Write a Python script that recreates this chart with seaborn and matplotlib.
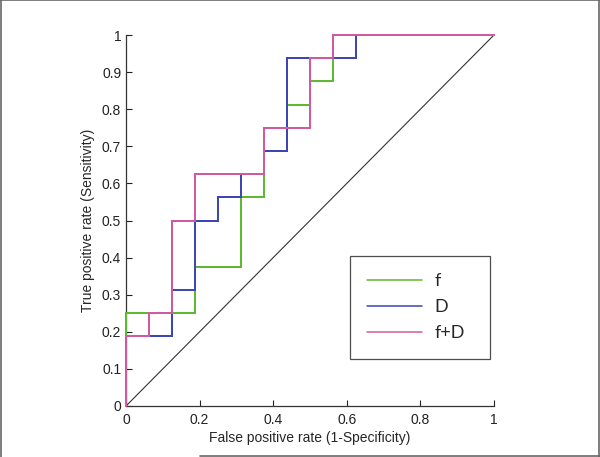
import numpy as np
import pandas as pd
import matplotlib
matplotlib.use('Agg')
import matplotlib.pyplot as plt
from matplotlib.lines import Line2D
from matplotlib.ticker import FormatStrFormatter
import seaborn as sns

# ROC points (false positive rate, true positive rate) for each model
fpr_f = [0, 0, 0.1875, 0.3125, 0.375, 0.4375, 0.5, 0.5625, 1]
tpr_f = [0, 0.25, 0.375, 0.5625, 0.75, 0.8125, 0.875, 1, 1]

fpr_d = [0, 0, 0.125, 0.1875, 0.25, 0.3125, 0.375, 0.4375, 0.625, 1]
tpr_d = [0, 0.1875, 0.3125, 0.5, 0.5625, 0.625, 0.6875, 0.9375, 1, 1]

fpr_fd = [0, 0, 0.0625, 0.125, 0.1875, 0.375, 0.5, 0.5625, 1]
tpr_fd = [0, 0.1875, 0.25, 0.5, 0.625, 0.75, 0.9375, 1, 1]

models = ['f', 'D', 'f+D']
colors = ['#5fb832', '#3c46b4', '#cf5aa0']

roc = pd.concat([
    pd.DataFrame({'fpr': fpr_f, 'tpr': tpr_f, 'model': 'f'}),
    pd.DataFrame({'fpr': fpr_d, 'tpr': tpr_d, 'model': 'D'}),
    pd.DataFrame({'fpr': fpr_fd, 'tpr': tpr_fd, 'model': 'f+D'}),
], ignore_index=True)

sns.set_style('white')
plt.rcParams['font.family'] = ['Liberation Sans', 'DejaVu Sans']

fig = plt.figure(figsize=(6, 4.57), dpi=100)
ax = fig.add_axes([0.21, 0.1116, 0.6133, 0.8118])

# chance line
sns.lineplot(x=[0, 1], y=[0, 1], color='#333333', linewidth=0.8, ax=ax)

sns.lineplot(data=roc, x='fpr', y='tpr', hue='model', hue_order=models,
             palette=colors, sort=False, estimator=None,
             drawstyle='steps-post', linewidth=1.1, ax=ax)
for i, line in enumerate(ax.lines):
    line.set_clip_on(False)
    line.set_zorder(3)
    if i > 0:
        line.set_antialiased(False)

ax.set_xlim(0, 1)
ax.set_ylim(0, 1)
ax.set_xticks(np.arange(0, 1.01, 0.2))
ax.set_yticks(np.arange(0, 1.01, 0.1))
ax.xaxis.set_major_formatter(FormatStrFormatter('%g'))
ax.yaxis.set_major_formatter(FormatStrFormatter('%g'))
ax.tick_params(direction='in', length=4, width=0.8, labelsize=10,
               colors='#222222', bottom=True, left=True)
ax.tick_params(axis='x', pad=5)
ax.set_xlabel('False positive rate (1-Specificity)', fontsize=10, labelpad=3)
ax.set_ylabel('True positive rate (Sensitivity)', fontsize=10, labelpad=5)

for side in ['top', 'right']:
    ax.spines[side].set_visible(False)
for side in ['left', 'bottom']:
    ax.spines[side].set_color('#333333')
    ax.spines[side].set_linewidth(0.9)

handles, labels = ax.get_legend_handles_labels()
handles = [h for h, l in zip(handles, labels) if l in models]
labels = [l for l in labels if l in models]
leg = ax.legend(handles, labels, loc='upper left',
                bbox_to_anchor=(0.609, 0.129, 0.38, 0.275), mode='expand',
                frameon=True, fancybox=False, edgecolor='#222222',
                prop={'family': 'Lato', 'size': 13}, handlelength=3.05,
                handletextpad=0.67, labelspacing=0.56, borderpad=0.95,
                borderaxespad=0)
leg.get_frame().set_linewidth(0.9)

# gray frame around the picture
fig.add_artist(Line2D([0, 1], [0.999, 0.999], color='#666666', lw=1.2, transform=fig.transFigure))
fig.add_artist(Line2D([0.001, 0.001], [0, 1], color='#666666', lw=1.2, transform=fig.transFigure))
fig.add_artist(Line2D([0.998, 0.998], [0, 1], color='#666666', lw=1.2, transform=fig.transFigure))
fig.add_artist(Line2D([0.333, 1], [0.002, 0.002], color='#666666', lw=1.2, transform=fig.transFigure))

fig.savefig('out.png', dpi=100)
